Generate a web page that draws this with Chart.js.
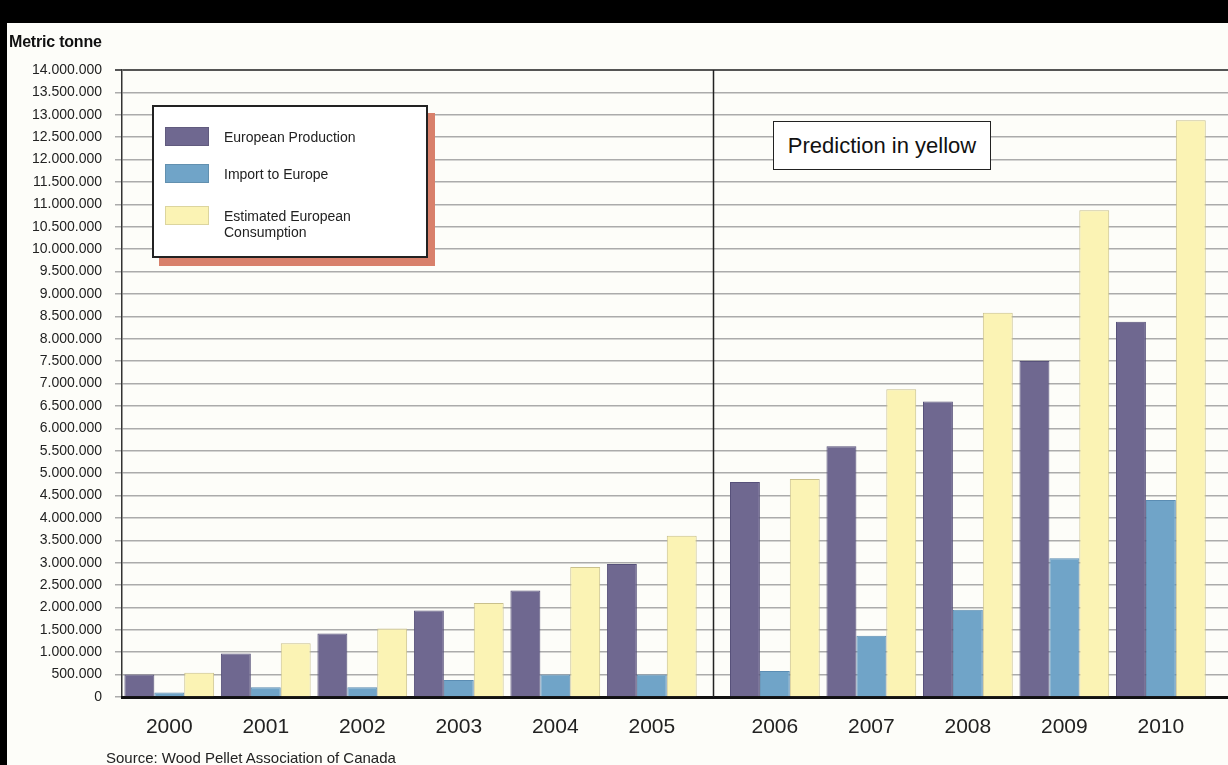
<!DOCTYPE html>
<html>
<head>
<meta charset="utf-8">
<script src="https://cdn.jsdelivr.net/npm/chart.js@4.4.0/dist/chart.umd.min.js"></script>
<style>
  html, body { margin:0; padding:0; width:1228px; height:765px; overflow:hidden; background:#fdfdf9;
    font-family:"Liberation Sans", Arial, sans-serif; }
  #wrap { position:absolute; left:0; top:0; width:1240px; height:765px; }
  .band-top { position:absolute; left:0; top:0; width:1228px; height:23px; background:#000; z-index:5; }
  .band-left { position:absolute; left:0; top:0; width:7px; height:765px; background:#000; z-index:5; }
  #ytitle { position:absolute; left:9px; top:33px; font-weight:bold; font-size:16px; color:#111; letter-spacing:-0.2px; }
  #source { position:absolute; left:106px; top:749px; font-size:15px; color:#222; white-space:nowrap; }
  #legend { position:absolute; left:152px; top:105px; width:276px; height:153px; box-sizing:border-box;
    border:2px solid #222; background:#fff; box-shadow:7px 8px 0 #d8806b; z-index:3; }
  .item { position:absolute; left:11px; display:flex; align-items:flex-start; }
  .sw { width:44px; height:19px; box-sizing:border-box; border:1px solid rgba(0,0,0,0.12); }
  .lt { margin-left:15px; margin-top:2px; font-size:14px; line-height:16px; color:#222; }
  #pred { position:absolute; left:773px; top:121px; width:218px; height:49px; box-sizing:border-box;
    border:1.5px solid #222; background:#fff; display:flex; align-items:center; justify-content:center;
    font-size:22px; color:#111; z-index:3; }
</style>
</head>
<body>
<div id="wrap"><canvas id="c" width="1240" height="765"></canvas></div>
<div class="band-top"></div>
<div class="band-left"></div>
<div id="ytitle"></div>
<div id="source">Source: Wood Pellet Association of Canada</div>
<div id="legend"></div>
<div id="pred">Prediction in yellow</div>
<script>
// ---- data ----
const years = [2000, 2001, 2002, 2003, 2004, 2005, 2006, 2007, 2008, 2009, 2010];
const firstPredictionYear = 2006;
const production  = [500000, 970000, 1420000, 1930000, 2380000, 2970000, 4800000, 5600000, 6600000, 7500000, 8380000];
const imports     = [100000, 220000, 220000, 380000, 500000, 500000, 580000, 1370000, 1950000, 3100000, 4400000];
const consumption = [540000, 1200000, 1530000, 2100000, 2900000, 3600000, 4870000, 6870000, 8580000, 10870000, 12880000];
const seriesNames = ['European Production', 'Import to Europe', 'Estimated European Consumption'];
const yMin = 0, yMax = 14000000, yStep = 500000;
const yTitle = 'Metric tonne';

// ---- style ----
const seriesColors  = ['#6f6890', '#70a4c8', '#fbf3b4'];
const seriesBorders = ['#57517a', '#5b8db3', '#c9c08c'];
const legendSwatchTops = [20, 57, 99];
const periodGap = 0.275;          // extra axis space (in years) separating measured and predicted periods
const xSpan = 11.585;             // visible axis span (in years, including the gap)

Chart.defaults.font.family = '"Liberation Sans", Arial, sans-serif';

// A linear scale with a break (extra space) between two periods
class GapLinearScale extends Chart.LinearScale {
  getPixelForValue(value) {
    const o = this.options;
    return super.getPixelForValue(value > o.gapAt ? value + o.gapSize : value);
  }
}
GapLinearScale.id = 'gapLinear';
GapLinearScale.defaults = Chart.LinearScale.defaults;
Chart.register(GapLinearScale);

const seriesValues = [production, imports, consumption];
const datasets = seriesValues.map((vals, k) => ({
  label: seriesNames[k],
  data: years.map((yr, i) => ({ x: yr, y: vals[i] })),
  backgroundColor: seriesColors[k],
  borderColor: seriesBorders[k],
  borderWidth: 1,
  barPercentage: 1,
  categoryPercentage: 0.93
}));

function fmt(v) {
  return String(v).replace(/\B(?=(\d{3})+(?!\d))/g, '.');
}

const dividerPlugin = {
  id: 'divider',
  beforeDatasetsDraw(chart) {
    const { ctx, chartArea, scales } = chart;
    const x = Math.round((scales.x.getPixelForValue(firstPredictionYear - 1) +
                          scales.x.getPixelForValue(firstPredictionYear)) / 2) + 0.5;
    ctx.save();
    ctx.strokeStyle = '#222';
    ctx.lineWidth = 1.5;
    ctx.beginPath();
    ctx.moveTo(x, chartArea.top);
    ctx.lineTo(x, chartArea.bottom);
    ctx.stroke();
    ctx.restore();
  }
};

new Chart(document.getElementById('c'), {
  type: 'bar',
  data: { datasets },
  options: {
    responsive: false,
    animation: false,
    devicePixelRatio: 1,
    layout: { padding: { left: 0, top: 70, right: 0, bottom: 0 } },
    plugins: { legend: { display: false }, tooltip: { enabled: false } },
    scales: {
      y: {
        min: yMin, max: yMax,
        ticks: { stepSize: yStep, callback: v => fmt(v), font: { size: 14 }, color: '#222', padding: 13 },
        grid: {
          color: c => (c.tick && c.tick.value === yMax) ? '#555' : '#ababab',
          lineWidth: c => (c.tick && c.tick.value === yMax) ? 2 : 1.5,
          tickLength: 7
        },
        border: { display: true, color: '#333', width: 1.5 },
        afterFit: s => { s.width = 122; }
      },
      x: {
        type: 'gapLinear',
        gapAt: firstPredictionYear - 0.5, gapSize: periodGap,
        min: years[0] - 0.49, max: years[0] - 0.49 + xSpan,
        offset: false,
        grid: { display: false, drawTicks: false, offset: false },
        border: { display: true, color: '#111', width: 3 },
        afterBuildTicks: s => { s.ticks = years.map(v => ({ value: v })); },
        ticks: { font: { size: 21 }, color: '#222', padding: 18, autoSkip: false, maxRotation: 0,
                 callback: v => String(v) },
        afterFit: s => { s.height = 68; }
      }
    }
  },
  plugins: [dividerPlugin]
});

// HTML legend built from series arrays
const legend = document.getElementById('legend');
seriesNames.forEach((name, k) => {
  const it = document.createElement('div');
  it.className = 'item';
  it.style.top = legendSwatchTops[k] + 'px';
  const sw = document.createElement('div');
  sw.className = 'sw';
  sw.style.background = seriesColors[k];
  const t = document.createElement('div');
  t.className = 'lt';
  t.textContent = name;
  t.style.maxWidth = '150px';
  it.appendChild(sw); it.appendChild(t);
  legend.appendChild(it);
});
document.getElementById('ytitle').textContent = yTitle;
</script>
</body>
</html>
